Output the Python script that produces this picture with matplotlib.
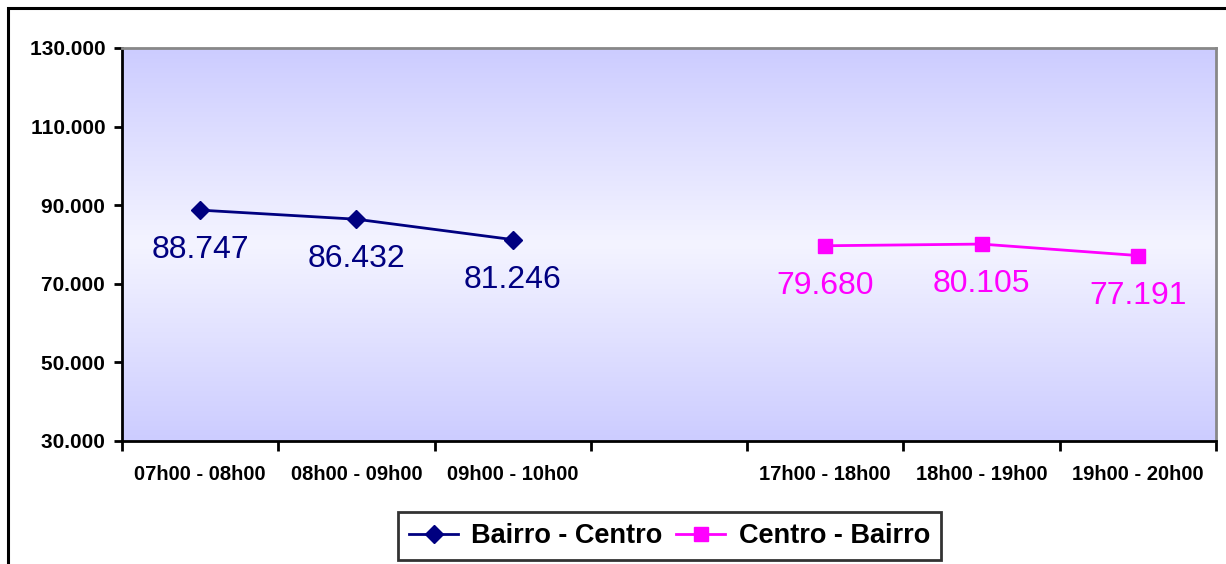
import numpy as np
import matplotlib
matplotlib.use("Agg")
import matplotlib.pyplot as plt
from matplotlib.colors import LinearSegmentedColormap
from matplotlib.patches import Rectangle
from matplotlib.ticker import FuncFormatter

plt.rcParams['font.family'] = ['Liberation Sans', 'DejaVu Sans']

# data
categories = ["07h00 - 08h00", "08h00 - 09h00", "09h00 - 10h00", "",
              "17h00 - 18h00", "18h00 - 19h00", "19h00 - 20h00"]
bairro_centro = [88747, 86432, 81246]
centro_bairro = [79680, 80105, 77191]
x_bc = [0, 1, 2]
x_cb = [4, 5, 6]

fig = plt.figure(figsize=(12.26, 5.64), dpi=100)
ax = fig.add_axes([0.0995, 0.2181, 0.8923, 0.6968])

# gradient background: lavender - near white - lavender
cmap = LinearSegmentedColormap.from_list("bg", ["#CCCCFF", "#F4F4FF", "#CCCCFF"])
grad = np.linspace(0, 1, 256).reshape(-1, 1)
ax.imshow(grad, cmap=cmap, aspect='auto', extent=[-0.5, 6.5, 30000, 130000],
          origin='lower', zorder=0)

ax.plot(x_bc, bairro_centro, color='#000080', lw=2, marker='D', ms=9.5,
        label='Bairro - Centro', zorder=3)
ax.plot(x_cb, centro_bairro, color='#FF00FF', lw=2, marker='s', ms=9.5,
        label='Centro - Bairro', zorder=3)

def fmt(v):
    return f"{v:,.0f}".replace(",", ".")

for xs, ys, c in [(x_bc, bairro_centro, '#000080'), (x_cb, centro_bairro, '#FF00FF')]:
    for xi, yi in zip(xs, ys):
        ax.annotate(fmt(yi), (xi, yi), xytext=(0, -29), textcoords='offset points',
                    ha='center', va='center', fontsize=23, color=c, zorder=4)

ax.set_xlim(-0.5, 6.5)
ax.set_ylim(30000, 130000)
ax.set_yticks(np.arange(30000, 130001, 20000))
ax.yaxis.set_major_formatter(FuncFormatter(lambda v, p: fmt(v) + " "))

ax.set_xticks(np.arange(-0.5, 7, 1))
ax.set_xticklabels([])
ax.set_xticks(np.arange(7), minor=True)
ax.set_xticklabels(categories, minor=True)
ax.tick_params(axis='x', which='major', length=7, width=2, direction='out')
ax.tick_params(axis='x', which='minor', length=0, pad=17, labelsize=14.5)
ax.tick_params(axis='y', length=6, width=2, labelsize=15, pad=2)
for lab in ax.get_xticklabels(minor=True) + ax.get_yticklabels():
    lab.set_fontweight('bold')

for s in ['left', 'bottom']:
    ax.spines[s].set_color('black')
    ax.spines[s].set_linewidth(2)
for s in ['top', 'right']:
    ax.spines[s].set_color('#888888')
    ax.spines[s].set_linewidth(2)

leg = fig.legend(loc='center', ncol=2,
                 prop={'weight': 'bold', 'size': 19.5}, frameon=True, fancybox=False,
                 handlelength=1.8, handletextpad=0.5, columnspacing=0.5,
                 borderpad=0.4)
leg.set_bbox_to_anchor((0.5461, 0.0496), transform=fig.transFigure)
leg.get_frame().set_edgecolor('black')
leg.get_frame().set_linewidth(2)

# outer chart frame
fig.add_artist(Rectangle((0.0065, -0.1), 1.2, 1.0858, transform=fig.transFigure,
                         fill=False, edgecolor='black', lw=2.2, clip_on=False))

fig.savefig("out.png", dpi=100)
